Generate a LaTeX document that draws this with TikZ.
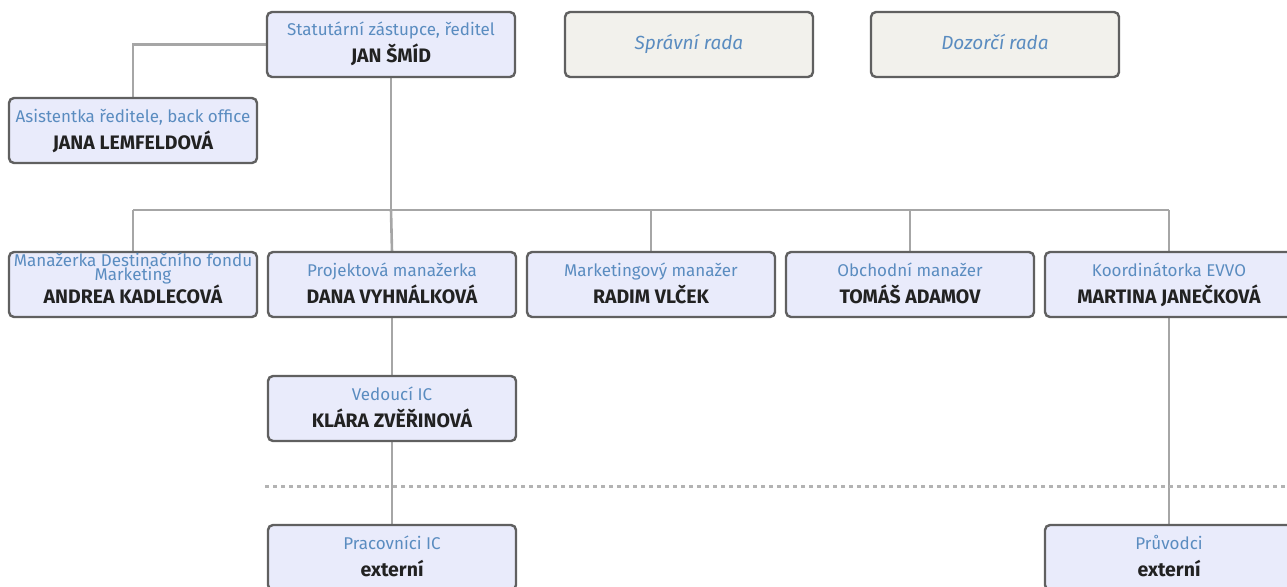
\documentclass[tikz,border=0pt]{standalone}
\usepackage{fontspec}
\setmainfont{Fira Sans}
\usetikzlibrary{backgrounds}
\definecolor{boxfill}{HTML}{E9EBFB}
\definecolor{greyfill}{HTML}{F2F1EC}
\definecolor{boxline}{HTML}{606060}
\definecolor{conn}{HTML}{A6A6A6}
\definecolor{roletext}{HTML}{5A8CC0}
\definecolor{nametext}{HTML}{222222}
\begin{document}
\begin{tikzpicture}[x=1pt,y=-1pt,
  orgbox/.style={draw=boxline,line width=2.4pt,fill=boxfill,rounded corners=5pt,
    minimum width=248pt,minimum height=65pt,inner sep=0pt,outer sep=0pt,anchor=north west},
  board/.style={orgbox,fill=greyfill},
  boardtext/.style={font=\fontsize{19}{21}\selectfont\itshape,text=roletext,inner sep=0pt,anchor=base},
  roletxt/.style={font=\fontsize{17}{19}\selectfont,text=roletext,inner sep=0pt,anchor=base},
  nametxt/.style={font=\fontsize{19.5}{21}\selectfont\bfseries,text=nametext,inner sep=0pt,anchor=base},
  link/.style={draw=conn,line width=2.6pt}]
\newcommand{\orgunit}[4]{%
  \node[orgbox] (#1) at (#2) {};
  \node[roletxt] (#1-r) at ([yshift=-24pt]#1.north) {#3};
  \node[nametxt] (#1-n) at ([yshift=-51pt]#1.north) {#4};}
\useasboundingbox (0,0) rectangle (1287,586);
\clip (0,0) rectangle (1287,586);
\orgunit{dir}{267,12}{Statutární zástupce, ředitel}{JAN ŠMÍD}
\node[board] (sr) at (565,12) {};
\node[boardtext] (sr-t) at ([yshift=-37pt]sr.north) {Správní rada};
\node[board] (dr) at (871,12) {};
\node[boardtext] (dr-t) at ([yshift=-37pt]dr.north) {Dozorčí rada};
\orgunit{asst}{9,98}{Asistentka ředitele, back office}{JANA LEMFELDOVÁ}
\node[orgbox] (m1) at (9,252) {};
\node[roletxt] (m1-r1) at ([yshift=-14pt]m1.north) {Manažerka Destinačního fondu};
\node[roletxt] (m1-r2) at ([yshift=-28pt]m1.north) {Marketing};
\node[nametxt] (m1-n) at ([yshift=-51pt]m1.north) {ANDREA KADLECOVÁ};
\orgunit{m2}{268,252}{Projektová manažerka}{DANA VYHNÁLKOVÁ}
\orgunit{m3}{527,252}{Marketingový manažer}{RADIM VLČEK}
\orgunit{m4}{786,252}{Obchodní manažer}{TOMÁŠ ADAMOV}
\orgunit{m5}{1045,252}{Koordinátorka EVVO}{MARTINA JANEČKOVÁ}
\orgunit{ic}{268,376}{Vedoucí IC}{KLÁRA ZVĚŘINOVÁ}
\orgunit{pic}{268,525}{Pracovníci IC}{externí}
\orgunit{pr}{1045,525}{Průvodci}{externí}
\coordinate (bus) at (dir.south |- 0,210);
\coordinate (busL) at (m1.north |- bus);
\coordinate (busR) at (m5.north |- bus);
\coordinate (asstC) at (asst.north |- dir.west);
\begin{scope}[on background layer]
\draw[link] (dir.west) -- (asstC) -- (asst.north);
\draw[link] (dir.south) -- (bus);
\draw[link] (busL) -- (busR);
\draw[link] (busL) -- (m1.north);
\draw[link] (bus) -- (m2.north);
\draw[link] (m3.north) -- (m3.north |- bus);
\draw[link] (m4.north) -- (m4.north |- bus);
\draw[link] (busR) -- (m5.north);
\draw[link] (m2.south) -- (ic.north);
\draw[link] (ic.south) -- (pic.north);
\draw[link] (m5.south) -- (pr.north);
\coordinate (dotA) at (265,486);
\coordinate (dotB) at (1287,486);
\draw[draw=conn!85,line width=3pt,dash pattern=on 4pt off 4pt] (dotA) -- (dotB);
\end{scope}
\end{tikzpicture}
\end{document}
